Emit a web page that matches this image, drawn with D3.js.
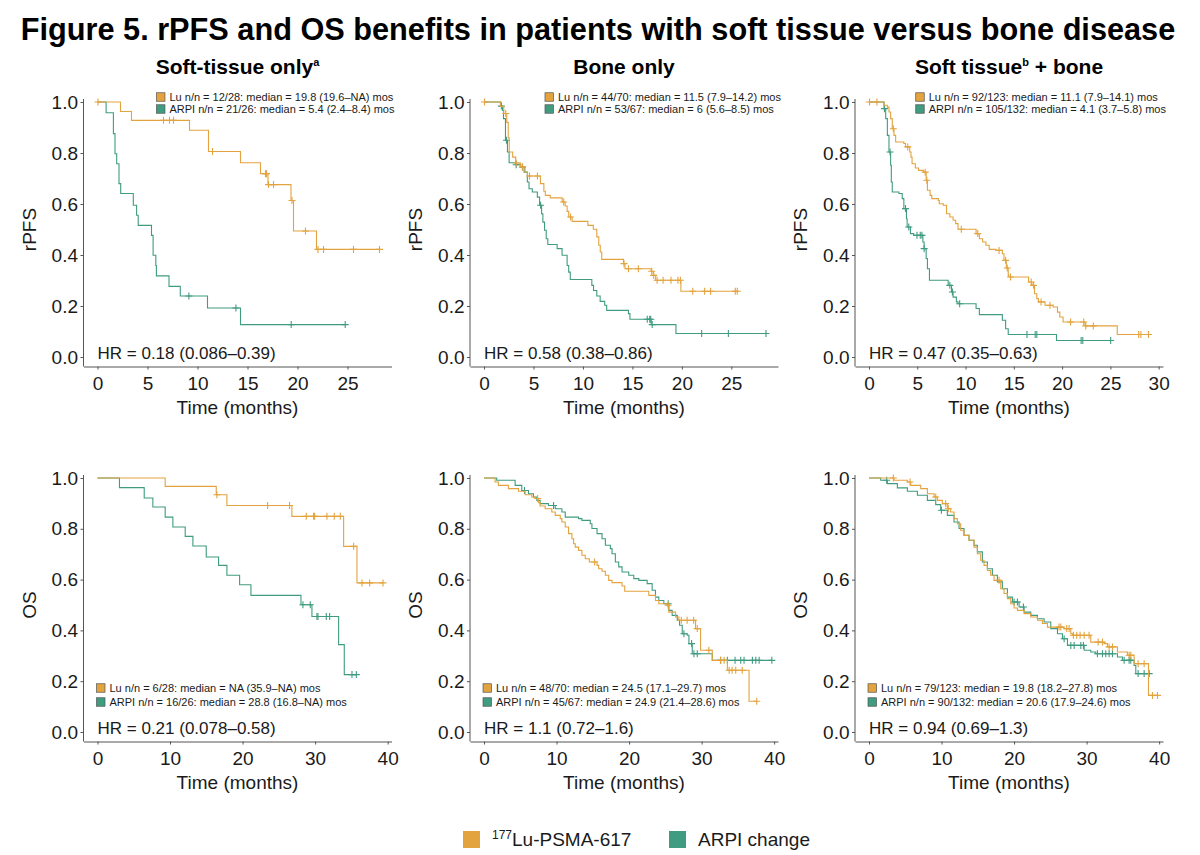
<!DOCTYPE html>
<html>
<head>
<meta charset="utf-8">
<script src="https://cdn.jsdelivr.net/npm/d3@7"></script>
<style>
  body { margin: 0; background: #fff; }
  svg text { font-family: "Liberation Sans", Arial, sans-serif; }
</style>
</head>
<body>
<svg id="fig" width="1200" height="855"></svg>
<script>
// ---- data: [time (months), survival after the step] ----
const columnTitles = ["Soft-tissue only", "Bone only", "Soft tissue"];
const columnSups = ["a", "", "b"];
const columnTails = ["", "", " + bone"];
const metrics = ["rPFS", "OS"];

// Soft-tissue only, rPFS
const softRpfsLu = [[2.3,0.963],[3.4,0.928],[9.2,0.889],[11.1,0.806],[14.3,0.762],[16.3,0.719],[17.05,0.676],[19.35,0.614],[19.6,0.494],[21.9,0.422]];
const softRpfsLuCens = [0.05,6.6,7.2,7.6,11.5,16.8,16.9,17.1,17.6,19.45,20.8,22.05,22.6,25.6,28.2];
const softRpfsArpi = [[0.86,0.958],[1.59,0.876],[1.75,0.797],[1.92,0.758],[2.15,0.68],[2.32,0.641],[3.58,0.595],[3.91,0.556],[4.07,0.516],[5.4,0.477],[5.56,0.399],[5.83,0.359],[5.89,0.318],[7.15,0.277],[8.28,0.239],[11.0,0.192],[14.3,0.127]];
const softRpfsArpiCens = [9.14,13.84,19.37,24.77];

// Bone only, rPFS
const boneRpfsLu = [[1.65,0.983],[2.0,0.955],[2.3,0.92],[2.45,0.86],[2.55,0.804],[2.9,0.784],[3.2,0.761],[3.7,0.745],[4.15,0.725],[4.4,0.71],[5.7,0.68],[6.05,0.65],[6.2,0.634],[6.7,0.624],[7.9,0.608],[8.2,0.592],[8.4,0.571],[8.56,0.549],[8.9,0.532],[10.5,0.516],[11.05,0.501],[11.4,0.471],[11.6,0.438],[11.75,0.412],[11.9,0.383],[14.1,0.366],[14.25,0.346],[16.9,0.336],[17.1,0.32],[17.35,0.301],[19.9,0.258]];
const boneRpfsLuCens = [0.05,2.2,3.25,3.9,4.6,5.4,8.05,8.75,14.15,14.6,15.6,16.95,17.15,17.5,18.1,18.9,19.6,19.85,21.1,22.3,22.9,25.4,25.6];
const boneRpfsArpi = [[1.7,0.984],[1.87,0.967],[1.97,0.935],[2.17,0.85],[2.37,0.804],[2.54,0.762],[3.21,0.754],[3.7,0.745],[4.05,0.725],[4.38,0.686],[4.55,0.66],[4.88,0.647],[5.39,0.627],[5.62,0.595],[5.82,0.562],[5.95,0.529],[6.12,0.497],[6.29,0.464],[6.45,0.441],[7.39,0.425],[7.89,0.399],[8.4,0.359],[8.56,0.333],[8.72,0.304],[10.9,0.281],[11.07,0.261],[11.4,0.239],[11.74,0.218],[12.2,0.203],[12.4,0.183],[14.6,0.17],[14.75,0.148],[16.9,0.127],[19.4,0.092]];
const boneRpfsArpiCens = [1.75,2.27,3.25,3.88,5.72,16.5,16.75,16.85,17.0,22.0,24.7,28.5];

// Soft tissue + bone, rPFS
const bothRpfsLu = [[1.56,0.987],[1.9,0.98],[2.07,0.961],[2.24,0.935],[2.41,0.895],[2.59,0.869],[2.76,0.843],[3.61,0.837],[3.78,0.824],[4.22,0.804],[4.35,0.784],[4.46,0.758],[4.8,0.741],[5.14,0.732],[5.65,0.725],[5.92,0.693],[6.05,0.654],[6.33,0.634],[6.5,0.621],[7.18,0.614],[7.28,0.601],[7.69,0.595],[8.03,0.562],[8.37,0.549],[8.71,0.536],[8.98,0.523],[9.22,0.501],[11.09,0.484],[11.43,0.464],[11.77,0.451],[12.11,0.438],[12.45,0.422],[13.13,0.418],[13.81,0.405],[13.98,0.379],[14.22,0.349],[14.42,0.32],[14.49,0.314],[16.53,0.294],[16.87,0.281],[17.14,0.248],[17.38,0.229],[17.55,0.216],[18.23,0.203],[19.08,0.196],[19.52,0.176],[19.76,0.157],[20.1,0.137],[22.38,0.122],[25.71,0.088]];
const bothRpfsLuCens = [0.05,0.82,2.52,4.01,5.82,5.99,9.56,11.26,13.47,14.15,14.32,14.66,16.8,17.04,17.82,18.74,20.88,22.24,22.45,23.23,27.93,28.16,28.95];
const bothRpfsArpi = [[1.56,0.974],[1.73,0.935],[1.9,0.869],[2.07,0.804],[2.24,0.752],[2.31,0.686],[2.41,0.647],[3.1,0.641],[3.44,0.621],[3.61,0.582],[3.88,0.542],[3.95,0.51],[4.29,0.484],[4.63,0.477],[5.58,0.451],[5.71,0.425],[5.92,0.386],[6.05,0.346],[6.26,0.301],[8.2,0.281],[8.54,0.255],[8.71,0.235],[9.05,0.216],[9.22,0.209],[11.09,0.19],[11.43,0.166],[13.81,0.144],[14.15,0.111],[14.42,0.088],[19.42,0.065]];
const bothRpfsArpiCens = [1.6,2.18,3.78,4.12,4.97,5.31,5.48,5.71,8.37,8.64,9.39,16.36,17.21,17.38,21.97,22.14,25.03];

// Soft-tissue only, OS
const softOsLu = [[9.33,0.967],[16.37,0.934],[17.84,0.892],[26.8,0.849],[33.93,0.731],[35.77,0.587]];
const softOsLuCens = [16.46,23.45,26.48,28.78,29.79,29.93,31.63,32.64,33.47,35.31,36.46,37.52,39.36];
const softOsArpi = [[3.03,0.962],[6.44,0.921],[7.63,0.886],[9.33,0.846],[10.39,0.807],[12.09,0.77],[13.15,0.732],[14.99,0.689],[16.69,0.656],[17.84,0.617],[19.59,0.58],[21.15,0.538],[28.05,0.501],[29.56,0.455],[33.24,0.344],[34.02,0.226]];
const softOsArpiCens = [28.32,29.33,30.25,30.39,31.54,32.0,35.08,35.68];

// Bone only, OS
const boneOsLu = [[1.52,0.984],[1.98,0.971],[3.36,0.958],[4.75,0.948],[5.67,0.934],[6.59,0.925],[7.05,0.919],[7.51,0.903],[7.74,0.89],[8.43,0.879],[9.35,0.866],[9.82,0.853],[10.51,0.84],[10.74,0.827],[11.2,0.807],[11.66,0.781],[12.12,0.761],[12.35,0.741],[12.58,0.728],[13.04,0.715],[13.5,0.696],[13.96,0.682],[14.52,0.669],[15.58,0.656],[15.81,0.643],[16.27,0.633],[16.73,0.617],[17.19,0.597],[17.65,0.588],[19.03,0.575],[19.4,0.554],[22.72,0.538],[23.64,0.518],[24.1,0.505],[25.25,0.499],[25.48,0.472],[26.41,0.453],[26.87,0.44],[29.17,0.407],[29.86,0.322],[31.47,0.282],[33.55,0.243],[36.54,0.121]];
const boneOsLuCens = [7.4,15.25,25.4,27.2,28.0,28.9,29.4,31.0,32.6,33.1,33.8,34.2,34.7,35.6,37.6];
const boneOsArpi = [[1.75,0.991],[4.29,0.971],[5.21,0.951],[6.13,0.938],[6.82,0.925],[7.28,0.912],[7.74,0.899],[8.89,0.892],[9.82,0.879],[10.74,0.866],[11.2,0.846],[13.04,0.84],[13.5,0.833],[14.65,0.82],[14.88,0.801],[15.58,0.781],[16.27,0.761],[16.73,0.735],[17.42,0.722],[17.65,0.702],[18.11,0.669],[18.57,0.65],[19.03,0.63],[19.95,0.617],[20.65,0.604],[21.34,0.597],[22.49,0.584],[23.18,0.558],[23.64,0.531],[24.1,0.518],[24.79,0.505],[25.48,0.479],[25.94,0.459],[26.64,0.44],[26.96,0.42],[27.33,0.387],[28.02,0.381],[28.25,0.348],[28.71,0.308],[31.47,0.282]];
const boneOsArpiCens = [5.58,9.59,25.39,27.56,28.62,28.94,29.4,32.63,33.55,34.61,35.39,35.85,37.0,37.47,37.93,39.68];

// Soft tissue + bone, OS
const bothOsLu = [[3.45,0.991],[5.29,0.984],[5.75,0.971],[7.13,0.958],[8.05,0.938],[8.97,0.925],[9.43,0.912],[10.11,0.899],[10.8,0.879],[11.26,0.866],[11.72,0.84],[12.18,0.82],[12.64,0.794],[13.1,0.774],[13.79,0.755],[14.48,0.728],[14.94,0.702],[15.4,0.676],[15.86,0.656],[16.32,0.636],[16.78,0.617],[17.24,0.597],[18.16,0.564],[18.62,0.545],[19.08,0.525],[19.54,0.505],[20.0,0.488],[20.46,0.479],[21.38,0.466],[22.3,0.453],[23.22,0.44],[23.91,0.427],[24.6,0.413],[26.9,0.407],[27.82,0.387],[28.05,0.381],[30.57,0.354],[32.41,0.348],[32.87,0.335],[34.25,0.315],[35.63,0.302],[36.55,0.269],[38.53,0.144]];
const bothOsLuCens = [3.36,5.66,9.2,10.57,10.94,17.93,26.2,26.44,27.26,27.59,28.18,28.64,29.1,29.66,30.34,31.59,32.18,33.1,33.56,35.86,36.09,37.1,37.93,39.08,39.77];
const bothOsArpi = [[1.61,0.991],[2.53,0.978],[3.91,0.961],[5.29,0.948],[6.67,0.932],[8.05,0.912],[9.2,0.895],[9.89,0.873],[10.8,0.853],[11.72,0.827],[12.41,0.801],[13.1,0.774],[13.79,0.755],[14.48,0.735],[14.94,0.709],[15.63,0.669],[16.32,0.643],[17.01,0.617],[17.7,0.591],[18.39,0.564],[19.08,0.531],[19.77,0.512],[20.69,0.492],[21.38,0.472],[22.3,0.459],[23.22,0.446],[24.14,0.433],[25.06,0.407],[25.98,0.387],[26.67,0.367],[27.36,0.341],[29.66,0.322],[30.57,0.315],[31.26,0.308],[34.25,0.295],[34.94,0.282],[36.55,0.262],[36.78,0.23]];
const bothOsArpiCens = [2.44,9.98,20.0,20.46,21.29,26.9,27.82,28.28,29.2,29.56,31.49,32.18,32.64,33.1,33.56,35.17,35.86,36.09,37.1,37.93,38.62];

const luLegend = [
  "Lu n/n = 12/28: median = 19.8 (19.6\u2013NA) mos", "Lu n/n = 44/70: median = 11.5 (7.9\u201314.2) mos", "Lu n/n = 92/123: median = 11.1 (7.9\u201314.1) mos",
  "Lu n/n = 6/28: median = NA (35.9\u2013NA) mos", "Lu n/n = 48/70: median = 24.5 (17.1\u201329.7) mos", "Lu n/n = 79/123: median = 19.8 (18.2\u201327.8) mos"
];
const arpiLegend = [
  "ARPI n/n = 21/26: median = 5.4 (2.4\u20138.4) mos", "ARPI n/n = 53/67: median = 6 (5.6\u20138.5) mos", "ARPI n/n = 105/132: median = 4.1 (3.7\u20135.8) mos",
  "ARPI n/n = 16/26: median = 28.8 (16.8\u2013NA) mos", "ARPI n/n = 45/67: median = 24.9 (21.4\u201328.6) mos", "ARPI n/n = 90/132: median = 20.6 (17.9\u201324.6) mos"
];
const hrLabels = [
  "HR = 0.18 (0.086\u20130.39)", "HR = 0.58 (0.38\u20130.86)", "HR = 0.47 (0.35\u20130.63)",
  "HR = 0.21 (0.078\u20130.58)", "HR = 1.1 (0.72\u20131.6)", "HR = 0.94 (0.69\u20131.3)"
];
const xMaxes = [28, 28.3, 29, 38.6, 38.6, 38.6];
const xTickSets = [
  [0,5,10,15,20,25], [0,5,10,15,20,25], [0,5,10,15,20,25,30],
  [0,10,20,30,40], [0,10,20,30,40], [0,10,20,30,40]
];
const yTicks = [0, 0.2, 0.4, 0.6, 0.8, 1.0];

// ---- look ----
const LU = "#E3A33E", ARPI = "#3F9C80";
const colLeft = [83.5, 470, 855];
const panelW = 308;
const rowGeom = [{ y1: 102, y0: 357 }, { y1: 478, y0: 732 }];

const curves = [
  [softRpfsLu, softRpfsLuCens, softRpfsArpi, softRpfsArpiCens],
  [boneRpfsLu, boneRpfsLuCens, boneRpfsArpi, boneRpfsArpiCens],
  [bothRpfsLu, bothRpfsLuCens, bothRpfsArpi, bothRpfsArpiCens],
  [softOsLu, softOsLuCens, softOsArpi, softOsArpiCens],
  [boneOsLu, boneOsLuCens, boneOsArpi, boneOsArpiCens],
  [bothOsLu, bothOsLuCens, bothOsArpi, bothOsArpiCens]
];

const svg = d3.select("#fig");

svg.append("text")
  .attr("x", 598).attr("y", 40)
  .attr("text-anchor", "middle")
  .attr("font-size", 30.7).attr("font-weight", "bold").attr("fill", "#000")
  .text("Figure 5. rPFS and OS benefits in patients with soft tissue versus bone disease");

// column headings
columnTitles.forEach((t, i) => {
  const tx = svg.append("text")
    .attr("x", colLeft[i] + panelW / 2).attr("y", 74)
    .attr("text-anchor", "middle")
    .attr("font-size", 21).attr("font-weight", "bold").attr("fill", "#000");
  tx.append("tspan").text(t);
  if (columnSups[i]) tx.append("tspan").attr("font-size", 11).attr("dy", -8).text(columnSups[i]);
  if (columnTails[i]) tx.append("tspan").attr("dy", columnSups[i] ? 8 : 0).text(columnTails[i]);
});

function survAt(steps, t) {
  let s = 1;
  steps.forEach(d => { if (d[0] <= t) s = d[1]; });
  return s;
}

function drawPanel(idx) {
  const col = idx % 3, row = Math.floor(idx / 3);
  const left = colLeft[col], r = rowGeom[row];
  const xMax = xMaxes[idx];
  const x = d3.scaleLinear().domain([-0.05 * xMax, 1.05 * xMax]).range([left, left + panelW]);
  const y = d3.scaleLinear().domain([0, 1]).range([r.y0, r.y1]);
  const axisY = r.y0 + 9.5;
  const g = svg.append("g");

  // y axis
  const ya = g.append("g")
    .attr("transform", `translate(${left},0)`)
    .call(d3.axisLeft(y).tickValues(yTicks).tickFormat(d3.format(".1f")).tickSize(3).tickPadding(2.5));
  ya.select(".domain").remove();
  g.append("line")
    .attr("x1", left).attr("x2", left)
    .attr("y1", y(1) - 3).attr("y2", axisY)
    .attr("stroke", "#555").attr("stroke-width", 1);

  // x axis
  const xa = g.append("g")
    .attr("transform", `translate(0,${axisY})`)
    .call(d3.axisBottom(x).tickValues(xTickSets[idx]).tickSize(3).tickSizeOuter(0).tickPadding(7.5));

  g.selectAll(".tick line").attr("stroke", "#555");
  xa.select(".domain").attr("stroke", "#555");
  g.selectAll(".tick text").attr("font-size", 19).attr("fill", "#1a1a1a")
    .attr("font-family", "'Liberation Sans', Arial, sans-serif");

  // axis titles
  g.append("text")
    .attr("x", left + panelW / 2).attr("y", axisY + 47.5)
    .attr("text-anchor", "middle").attr("font-size", 19).attr("fill", "#1a1a1a")
    .text("Time (months)");
  g.append("text")
    .attr("transform", `translate(${left - 48},${(r.y0 + r.y1) / 2}) rotate(-90)`)
    .attr("text-anchor", "middle").attr("font-size", 19).attr("fill", "#1a1a1a")
    .text(metrics[row]);

  // curves
  const line = d3.line().x(d => x(d[0])).y(d => y(d[1])).curve(d3.curveStepAfter);
  const [luSteps, luCens, arpiSteps, arpiCens] = curves[idx];
  [[arpiSteps, arpiCens, ARPI], [luSteps, luCens, LU]].forEach(([steps, cens, color]) => {
    const last = steps[steps.length - 1];
    const end = Math.max(last[0], d3.max(cens));
    const pts = [[0, 1]].concat(steps, [[end, last[1]]]);
    g.append("path").attr("d", line(pts))
      .attr("fill", "none").attr("stroke", color).attr("stroke-width", 1.1);
    g.append("g").selectAll("path").data(cens).join("path")
      .attr("d", t => {
        const cx = x(t), cy = y(survAt(steps, t));
        return `M${cx - 3.5},${cy}H${cx + 3.5}M${cx},${cy - 3.5}V${cy + 3.5}`;
      })
      .attr("stroke", color).attr("stroke-width", 1.1).attr("fill", "none");
  });

  // HR text
  g.append("text")
    .attr("x", x(0)).attr("y", y(0) + 1.5)
    .attr("font-size", 17).attr("fill", "#1a1a1a")
    .text(hrLabels[idx]);

  // in-panel legend
  const leg = g.append("g");
  const rowsY = row === 0 ? [y(1) - 5, y(1) + 7] : [y(0) - 44, y(0) - 30];
  const texts = [luLegend[idx], arpiLegend[idx]];
  const cols = [LU, ARPI];
  const tNodes = texts.map((t, k) => leg.append("text")
    .attr("y", rowsY[k]).attr("dy", "0.35em")
    .attr("font-size", 11).attr("fill", "#1a1a1a").text(t));
  const maxW = d3.max(tNodes, n => n.node().getComputedTextLength());
  const textX = row === 0 ? left + panelW + 3 - maxW : x(0) + 12;
  tNodes.forEach(n => n.attr("x", textX));
  cols.forEach((c, k) => {
    leg.append("rect")
      .attr("x", textX - 13).attr("y", rowsY[k] - 4.25)
      .attr("width", 8.5).attr("height", 8.5)
      .attr("fill", c).attr("stroke", "#555").attr("stroke-width", 0.7);
  });
}

for (let i = 0; i < 6; i++) drawPanel(i);

// bottom legend
const bottomLegend = [
  { color: LU, sx: 463, label: "Lu-PSMA-617", sup: "177" },
  { color: ARPI, sx: 669, label: "ARPI change", sup: "" }
];
bottomLegend.forEach(d => {
  svg.append("rect")
    .attr("x", d.sx).attr("y", 831).attr("width", 17).attr("height", 17)
    .attr("fill", d.color);
  const t = svg.append("text")
    .attr("x", d.sx + 29).attr("y", 846)
    .attr("font-size", 19).attr("fill", "#1a1a1a");
  if (d.sup) {
    t.append("tspan").attr("font-size", 12).attr("dy", -7).text(d.sup);
    t.append("tspan").attr("dy", 7).text(d.label);
  } else {
    t.append("tspan").text(d.label);
  }
});
</script>
</body>
</html>
